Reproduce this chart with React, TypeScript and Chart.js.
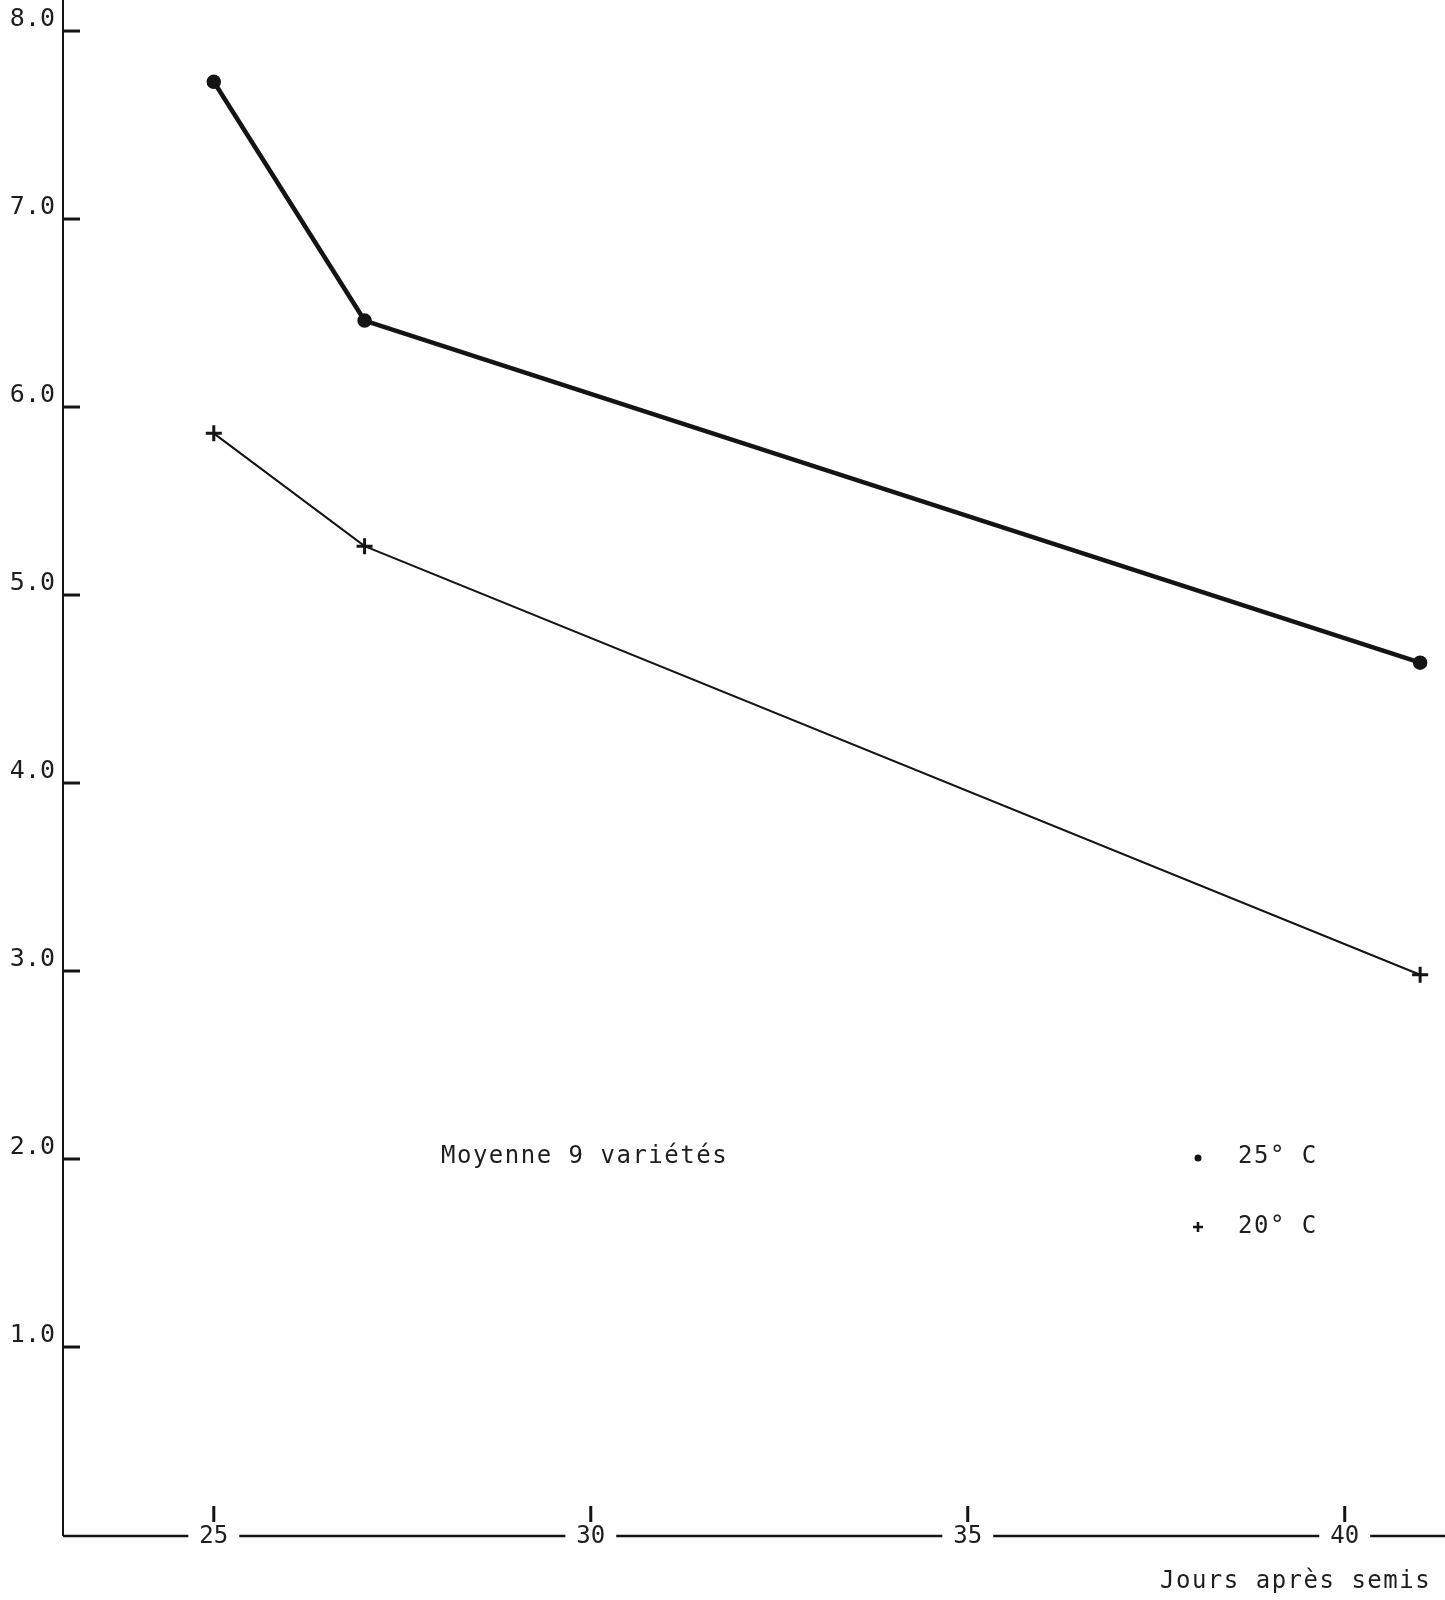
import React, { useEffect, useRef } from "react";
import { Chart, registerables } from "chart.js";

Chart.register(...registerables);

// ---- data ----
const days = [25, 27, 41];
const series25 = [7.73, 6.46, 4.64];
const series20 = [5.86, 5.26, 2.98];
const seriesLabels = ["25\u00B0 C", "20\u00B0 C"];
const xTicks = [25, 30, 35, 40];
const yTicks = [1, 2, 3, 4, 5, 6, 7, 8];
const annotationText = "Moyenne 9 vari\u00E9t\u00E9s";
const xTitle = "Jours apr\u00E8s semis";

const INK = "#141414";
const TEXT = "#1e1e1e";
const MONO = '"DejaVu Sans Mono", "Liberation Mono", monospace';

const overlayPlugin = {
  id: "overlay",
  afterDraw(chart: any) {
    const ctx = chart.ctx as CanvasRenderingContext2D;
    const xs = chart.scales.x;
    const ys = chart.scales.y;
    const area = chart.chartArea;
    ctx.save();

    // y ticks pointing inside the plot
    ctx.strokeStyle = INK;
    ctx.lineWidth = 3;
    yTicks.forEach((v) => {
      const py = ys.getPixelForValue(v);
      ctx.beginPath();
      ctx.moveTo(area.left, py);
      ctx.lineTo(area.left + 17, py);
      ctx.stroke();
    });

    // x axis line with labels sitting on it
    const axisY = area.bottom + 1;
    ctx.lineWidth = 2.5;
    ctx.beginPath();
    ctx.moveTo(area.left, axisY);
    ctx.lineTo(chart.width, axisY);
    ctx.stroke();

    ctx.font = `24px ${MONO}`;
    ctx.textAlign = "center";
    ctx.textBaseline = "middle";
    xTicks.forEach((v) => {
      const px = xs.getPixelForValue(v);
      const label = String(v);
      const w = ctx.measureText(label).width;
      ctx.fillStyle = "#ffffff";
      ctx.fillRect(px - w / 2 - 11, axisY - 6, w + 22, 12);
      ctx.fillStyle = TEXT;
      ctx.fillText(label, px, axisY + 1);
      ctx.strokeStyle = INK;
      ctx.lineWidth = 3;
      ctx.beginPath();
      ctx.moveTo(px, axisY - 30);
      ctx.lineTo(px, axisY - 14);
      ctx.stroke();
    });

    // axis title
    ctx.font = `24px ${MONO}`;
    (ctx as any).letterSpacing = "1.5px";
    ctx.textAlign = "left";
    ctx.fillStyle = TEXT;
    ctx.fillText(xTitle, 1160, 1582);

    // annotation
    ctx.fillText(annotationText, 441, 1157);

    // legend
    chart.data.datasets.forEach((ds: any, i: number) => {
      const ly = 1157 + i * 70;
      const lx = 1198;
      ctx.fillStyle = INK;
      ctx.strokeStyle = INK;
      if (ds.pointStyle === "circle") {
        ctx.beginPath();
        ctx.arc(lx, ly + 1, 3.5, 0, Math.PI * 2);
        ctx.fill();
      } else {
        ctx.lineWidth = 2.5;
        ctx.beginPath();
        ctx.moveTo(lx - 5, ly);
        ctx.lineTo(lx + 5, ly);
        ctx.moveTo(lx, ly - 5);
        ctx.lineTo(lx, ly + 5);
        ctx.stroke();
      }
      ctx.fillStyle = TEXT;
      ctx.fillText(ds.label, 1238, ly);
    });

    ctx.restore();
  },
};

export default function App() {
  const canvasRef = useRef<HTMLCanvasElement | null>(null);

  useEffect(() => {
    document.body.style.margin = "0";
    document.body.style.background = "#ffffff";
    const canvas = canvasRef.current;
    if (!canvas) return;
    const chart = new Chart(canvas, {
      type: "line",
      data: {
        datasets: [
          {
            label: seriesLabels[0],
            data: days.map((d, i) => ({ x: d, y: series25[i] })),
            borderColor: INK,
            backgroundColor: INK,
            borderWidth: 4.5,
            pointStyle: "circle",
            pointRadius: 5,
            pointBackgroundColor: INK,
            pointBorderColor: INK,
            tension: 0,
            clip: false,
          },
          {
            label: seriesLabels[1],
            data: days.map((d, i) => ({ x: d, y: series20[i] })),
            borderColor: INK,
            backgroundColor: INK,
            borderWidth: 2,
            pointStyle: "cross",
            pointRadius: 8,
            pointBorderWidth: 3,
            pointBorderColor: INK,
            tension: 0,
            clip: false,
          },
        ],
      },
      options: {
        animation: false,
        responsive: false,
        devicePixelRatio: 1,
        layout: { autoPadding: false, padding: { left: 0, right: 0, top: 0, bottom: 65 } },
        plugins: {
          legend: { display: false },
          tooltip: { enabled: false },
        },
        scales: {
          x: {
            type: "linear",
            display: false,
            min: 23,
            max: 41.33,
          },
          y: {
            type: "linear",
            min: 0,
            max: 8.165,
            afterFit: (scale: any) => {
              scale.width = 63;
              scale.paddingTop = 0;
              scale.paddingBottom = 0;
            },
            afterBuildTicks: (scale: any) => {
              scale.ticks = yTicks.map((v) => ({ value: v }));
            },
            grid: { drawOnChartArea: false, drawTicks: false },
            border: { display: true, color: INK, width: 2 },
            ticks: {
              padding: 8,
              labelOffset: -12,
              color: TEXT,
              font: { family: MONO, size: 25 },
              callback: (v: any) => Number(v).toFixed(1),
            },
          },
        },
      },
      plugins: [overlayPlugin],
    });
    return () => chart.destroy();
  }, []);

  return (
    <div style={{ width: 1445, height: 1600, background: "#ffffff" }}>
      <canvas ref={canvasRef} width={1445} height={1600} />
    </div>
  );
}
